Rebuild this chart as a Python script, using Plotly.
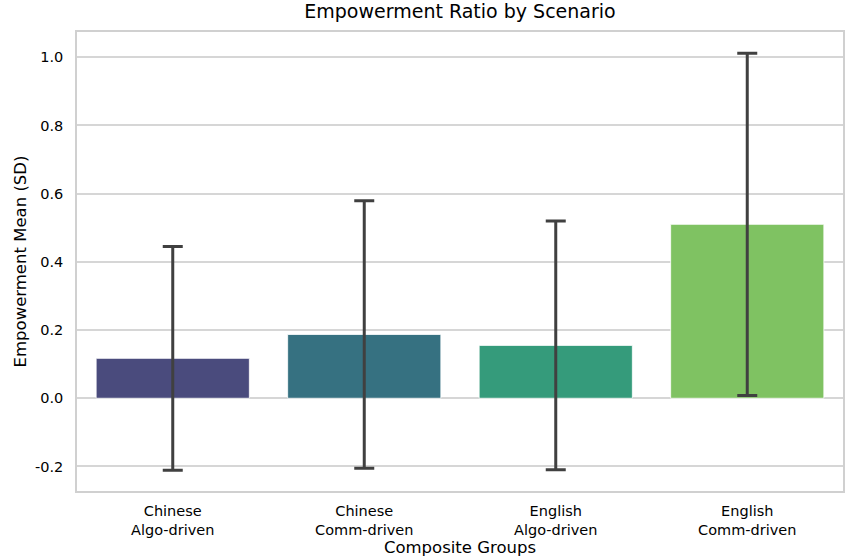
import plotly.graph_objects as go

categories = ["Chinese<br>Algo-driven", "Chinese<br>Comm-driven", "English<br>Algo-driven", "English<br>Comm-driven"]
means = [0.117, 0.187, 0.155, 0.510]
sds = [0.328, 0.392, 0.365, 0.502]
colors = ["#4a4b7d", "#367181", "#359b7b", "#7fc262"]
y_ticks = [-0.2, 0.0, 0.2, 0.4, 0.6, 0.8, 1.0]
y_tick_labels = ["-0.2", "0.0", "0.2", "0.4", "0.6", "0.8", "1.0"]

font_family = "DejaVu Sans"

fig = go.Figure()
fig.add_trace(go.Bar(
    x=categories,
    y=means,
    width=0.8,
    marker=dict(color=colors, line=dict(color="white", width=0.8)),
    error_y=dict(type="data", array=sds, visible=True, color="#404040", thickness=3, width=10),
))

fig.update_layout(
    width=846, height=559,
    margin=dict(l=77, r=1, t=32, b=68),
    paper_bgcolor="white", plot_bgcolor="white",
    font=dict(family=font_family, color="black", size=14.5),
    title=dict(text="Empowerment Ratio by Scenario", xref="paper", x=0.5, xanchor="center",
               y=1, yanchor="top", pad=dict(t=5), font=dict(size=19, family=font_family)),
    showlegend=False,
    bargap=0.2,
)
fig.update_xaxes(
    range=[-0.5, 3.5],
    showgrid=False,
    showline=True, linecolor="#d0d0d0", linewidth=1.5, mirror=True,
    ticks="outside", ticklen=6, tickcolor="rgba(0,0,0,0)",
    tickfont=dict(size=14.5),
    title=dict(text="Composite Groups", font=dict(size=16.5), standoff=1),
)
fig.update_yaxes(
    range=[-0.272, 1.074],
    tickvals=y_ticks, ticktext=y_tick_labels,
    showgrid=True, gridcolor="#d6d6d6", gridwidth=1.5,
    zeroline=False,
    showline=True, linecolor="#d0d0d0", linewidth=1.5, mirror=True,
    ticks="outside", ticklen=9, tickcolor="rgba(0,0,0,0)",
    tickfont=dict(size=14.5),
    title=dict(text="Empowerment Mean (SD)", font=dict(size=16.5), standoff=4),
)

fig.write_html("out.html")
